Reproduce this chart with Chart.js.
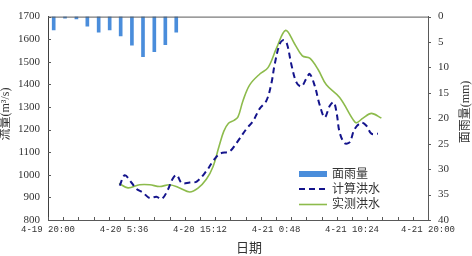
<!DOCTYPE html>
<html>
<head>
<meta charset="utf-8">
<script src="https://cdn.jsdelivr.net/npm/chart.js@4.4.1/dist/chart.umd.min.js"></script>
<style>
  html, body { margin: 0; padding: 0; background: #fff; }
  canvas { display: block; }
</style>
</head>
<body>
<canvas id="flood" width="472" height="256"></canvas>
<script>
// hours since 4-19 20:00
const xTickLabels = ['4-19 20:00', '4-20 5:36', '4-20 15:12', '4-21 0:48', '4-21 10:24', '4-21 20:00'];

// 面雨量 (mm)
const rainHours = [0.72, 2.15, 3.59, 4.97, 6.4, 7.79, 9.18, 10.6, 12.0, 13.43, 14.82, 16.2];
const rainMm = [2.6, 0.3, 0.45, 1.9, 3.05, 2.6, 3.8, 5.6, 7.9, 6.9, 5.5, 3.05];

// 计算洪水 (m3/s)
const calcHours = [9.06, 9.69, 10.53, 11.17, 11.96, 12.85, 13.69, 14.36, 15.12, 15.75, 16.26, 16.89, 17.9, 18.78,
  20.0, 20.84, 21.69, 22.95, 23.8, 25.06, 25.89, 26.74, 27.59, 28.22, 28.63, 29.27, 29.77, 30.19, 30.74, 31.38,
  32.0, 32.64, 33.06, 33.69, 34.32, 34.95, 35.58, 36.09, 36.47, 36.84, 37.48, 38.1, 38.74, 39.58, 40.22, 40.85, 41.68];
const calcFlow = [952, 998, 966, 938, 922, 897, 903, 893, 932, 983, 999, 964, 966, 970,
  1016, 1060, 1093, 1104, 1140, 1203, 1237, 1293, 1328, 1405, 1488, 1579, 1596, 1579, 1488, 1409,
  1391, 1426, 1446, 1394, 1309, 1254, 1304, 1321, 1271, 1187, 1140, 1144, 1203, 1230, 1217, 1182, 1182];

// 实测洪水 (m3/s)
const measHours = [8.97, 10.1, 11.58, 12.85, 14.1, 15.37, 16.63, 17.9, 18.95, 20.0, 20.84, 21.6, 22.2, 22.8, 23.5,
  24.0, 24.63, 25.48, 26.75, 27.79, 28.85, 30.02, 31.16, 32.13, 33.06, 34.1, 35.16, 36.84, 38.52, 38.95,
  39.79, 40.85, 42.11];
const measFlow = [962, 942, 956, 956, 948, 956, 942, 924, 941, 980, 1036, 1125, 1192, 1228, 1241,
  1256, 1328, 1398, 1446, 1474, 1559, 1639, 1579, 1526, 1516, 1467, 1398, 1342, 1245, 1230,
  1251, 1272, 1251];

const SERIF = '"Liberation Serif", "Noto Sans CJK SC", serif';
const TEXT = '#333';
const AXIS = '#595959';
const BLUE = '#4a8ddb';
const NAVY = '#14148c';
const GREEN = '#8dbb4c';

const decor = {
  id: 'decor',
  afterDraw(chart) {
    const { ctx, chartArea: a, scales } = chart;
    ctx.save();
    ctx.strokeStyle = AXIS;
    ctx.lineWidth = 1;
    ctx.beginPath();
    // top border
    ctx.moveTo(a.left, a.top + 0.5); ctx.lineTo(a.right, a.top + 0.5);
    // x ticks (inside), every 1.92 h
    for (let k = 0; k <= 25; k++) {
      const px = Math.round(scales.x.getPixelForValue(k * 1.92)) + 0.5;
      ctx.moveTo(px, a.bottom); ctx.lineTo(px, a.bottom - 3);
    }
    // left ticks (inside)
    for (let v = 800; v <= 1700; v += 100) {
      const py = Math.round(scales.y.getPixelForValue(v)) + 0.5;
      ctx.moveTo(a.left, py); ctx.lineTo(a.left + 3, py);
    }
    // right ticks (outside)
    for (let v = 0; v <= 40; v += 5) {
      const py = Math.round(scales.y2.getPixelForValue(v)) + 0.5;
      ctx.moveTo(a.right, py); ctx.lineTo(a.right + 3, py);
    }
    ctx.stroke();

    // axis titles
    ctx.fillStyle = TEXT;
    ctx.textAlign = 'center';
    ctx.textBaseline = 'middle';
    ctx.font = '12px ' + SERIF;
    ctx.save(); ctx.translate(6, 114); ctx.rotate(-Math.PI / 2); ctx.fillText('流量(m³/s)', 0, 0); ctx.restore();
    ctx.save(); ctx.translate(466, 112); ctx.rotate(-Math.PI / 2); ctx.fillText('面雨量(mm)', 0, 0); ctx.restore();
    ctx.font = '13px ' + SERIF;
    ctx.fillText('日期', 249, 249);

    // legend
    const lx = 299, lw = 28, tx = 332;
    ctx.fillStyle = BLUE;
    ctx.fillRect(lx, 171, lw, 6);
    ctx.lineWidth = 2;
    ctx.strokeStyle = NAVY;
    ctx.setLineDash([6, 4]);
    ctx.beginPath(); ctx.moveTo(lx, 189); ctx.lineTo(lx + lw, 189); ctx.stroke();
    ctx.setLineDash([]);
    ctx.lineWidth = 1.6;
    ctx.strokeStyle = GREEN;
    ctx.beginPath(); ctx.moveTo(lx, 204.5); ctx.lineTo(lx + lw, 204.5); ctx.stroke();
    ctx.fillStyle = TEXT;
    ctx.textAlign = 'left';
    ctx.font = '12px ' + SERIF;
    ctx.fillText('面雨量', tx, 174.5);
    ctx.fillText('计算洪水', tx, 189.5);
    ctx.fillText('实测洪水', tx, 204.5);
    ctx.restore();
  }
};

new Chart(document.getElementById('flood'), {
  type: 'line',
  data: {
    datasets: [
      {
        type: 'bar',
        label: '面雨量',
        data: rainHours.map((h, i) => ({ x: h, y: rainMm[i] })),
        yAxisID: 'y2',
        backgroundColor: BLUE,
        barThickness: 3,
        order: 3,
      },
      {
        label: '计算洪水',
        data: calcHours.map((h, i) => ({ x: h, y: calcFlow[i] })),
        yAxisID: 'y',
        borderColor: NAVY,
        borderWidth: 2,
        borderDash: [6, 4],
        pointRadius: 0,
        tension: 0.35,
        order: 1,
      },
      {
        label: '实测洪水',
        data: measHours.map((h, i) => ({ x: h, y: measFlow[i] })),
        yAxisID: 'y',
        borderColor: GREEN,
        borderWidth: 1.6,
        pointRadius: 0,
        tension: 0.35,
        order: 2,
      },
    ],
  },
  options: {
    responsive: false,
    animation: false,
    devicePixelRatio: 1,
    layout: { padding: { top: 4 } },
    plugins: { legend: { display: false }, tooltip: { enabled: false } },
    scales: {
      x: {
        type: 'linear',
        min: 0, max: 48,
        offset: false,
        afterFit: s => { s.height = 36; },
        grid: { display: false, drawTicks: false },
        border: { display: true, color: AXIS, width: 1 },
        ticks: {
          stepSize: 9.6,
          autoSkip: false,
          maxRotation: 0,
          padding: 4,
          color: TEXT,
          font: { family: '"Liberation Mono", monospace', size: 9 },
          callback: (v, i) => xTickLabels[i],
        },
      },
      y: {
        position: 'left',
        min: 800, max: 1700,
        afterFit: s => { s.width = 48; },
        grid: { display: false, drawTicks: false },
        border: { display: true, color: '#404040', width: 1 },
        ticks: { stepSize: 100, padding: 8, color: TEXT, font: { family: SERIF, size: 11 }, callback: v => String(v) },
      },
      y2: {
        position: 'right',
        reverse: true,
        min: 0, max: 40,
        afterFit: s => { s.width = 44; },
        grid: { display: false, drawTicks: false },
        border: { display: true, color: AXIS, width: 1 },
        ticks: { stepSize: 5, padding: 10, color: TEXT, font: { family: SERIF, size: 11 }, callback: v => String(v) },
      },
    },
  },
  plugins: [decor],
});
</script>
</body>
</html>
